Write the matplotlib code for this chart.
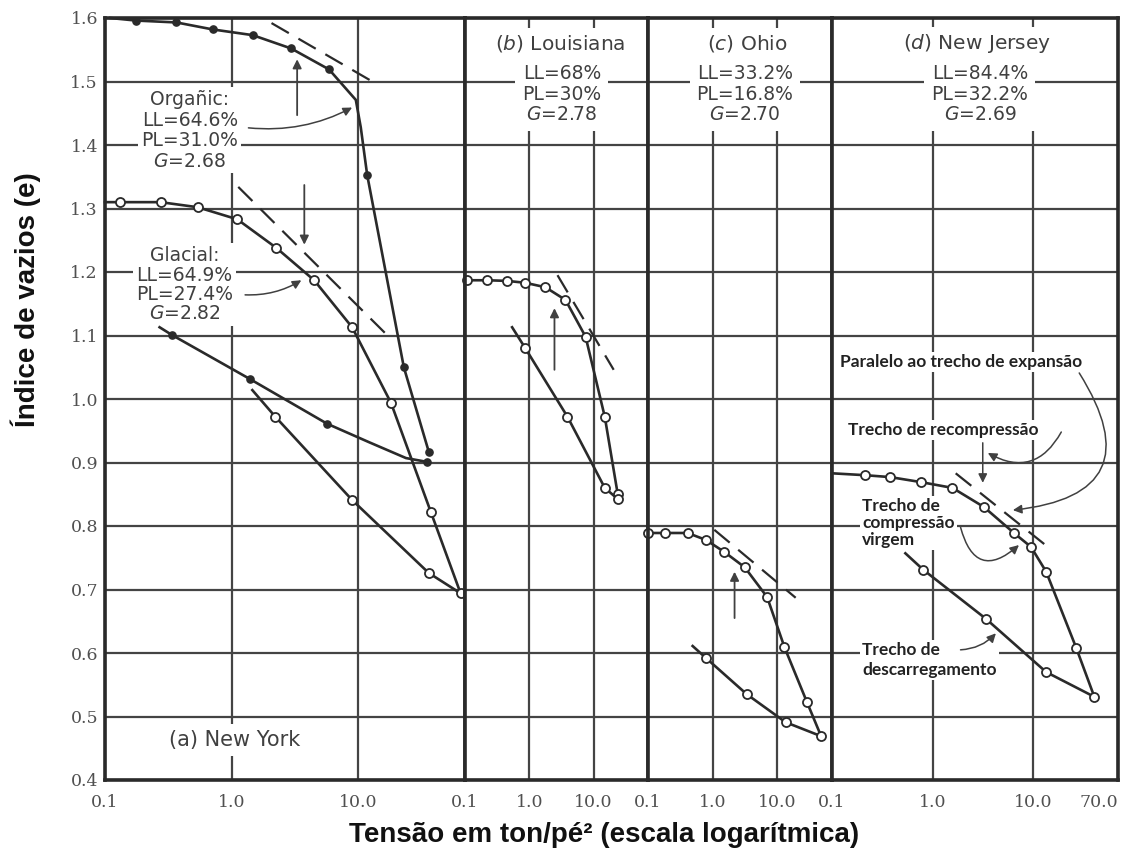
import matplotlib
matplotlib.use("Agg")
import matplotlib.pyplot as plt
from matplotlib.ticker import FixedLocator, NullLocator

# ---- data (stress in ton/ft^2, void ratio e) ----
# (a) New York - organic clay (filled circles)
org_load_x = [0.11, 0.175, 0.367, 0.71, 1.47, 2.96, 5.9, 9.6, 10.5, 11.8, 23, 36.2]
org_load_e = [1.600, 1.596, 1.593, 1.582, 1.573, 1.552, 1.519, 1.471, 1.428, 1.353, 1.05, 0.917]
org_load_pts_x = [0.175, 0.367, 0.71, 1.47, 2.96, 5.9, 11.8, 23, 36.2]
org_load_pts_e = [1.596, 1.593, 1.582, 1.573, 1.552, 1.519, 1.353, 1.05, 0.917]
org_unload_x = [35, 23.9, 12.2, 5.7, 1.41, 0.337, 0.27]
org_unload_e = [0.901, 0.907, 0.932, 0.961, 1.031, 1.101, 1.113]
org_unload_pts_x = [35, 5.7, 1.41, 0.337]
org_unload_pts_e = [0.901, 0.961, 1.031, 1.101]

# (a) New York - glacial clay (open circles)
gla_load_x = [0.1, 0.131, 0.275, 0.54, 1.11, 2.26, 4.5, 8.97, 18.2, 37.6, 64.6]
gla_load_e = [1.310, 1.310, 1.310, 1.302, 1.283, 1.238, 1.187, 1.113, 0.994, 0.822, 0.694]
gla_unload_x = [64.6, 36.2, 8.97, 2.22, 1.46]
gla_unload_e = [0.694, 0.726, 0.841, 0.972, 1.014]

# (b) Louisiana
lou_load_x = [0.107, 0.221, 0.453, 0.866, 1.78, 3.65, 7.5, 14.9, 23.7]
lou_load_e = [1.187, 1.187, 1.186, 1.183, 1.176, 1.156, 1.098, 0.972, 0.850]
lou_unload_x = [24, 14.9, 3.92, 0.866, 0.54]
lou_unload_e = [0.842, 0.860, 0.972, 1.080, 1.113]

# (c) Ohio
ohi_load_x = [0.1, 0.185, 0.41, 0.79, 1.52, 3.13, 6.96, 12.9, 28.6, 47.5]
ohi_load_e = [0.789, 0.789, 0.789, 0.778, 0.759, 0.735, 0.688, 0.609, 0.523, 0.469]
ohi_unload_x = [47.5, 13.4, 3.37, 0.79, 0.49]
ohi_unload_e = [0.469, 0.491, 0.535, 0.592, 0.611]

# (d) New Jersey
nj_load_x = [0.1, 0.214, 0.38, 0.776, 1.58, 3.24, 6.46, 9.55, 13.5, 26.9, 40.7]
nj_load_e = [0.883, 0.880, 0.877, 0.869, 0.860, 0.830, 0.789, 0.767, 0.728, 0.608, 0.531]
nj_unload_x = [40.7, 13.5, 3.39, 0.81, 0.537]
nj_unload_e = [0.531, 0.570, 0.654, 0.731, 0.757]

# dashed tangent lines (x pair, e pair)
tangents = {
    0: [([2.07, 14.6], [1.592, 1.494]), ([1.13, 16.9], [1.334, 1.101])],
    1: [([2.74, 20.5], [1.195, 1.046])],
    2: [([1.06, 19.2], [0.794, 0.687])],
    3: [([1.70, 15.1], [0.883, 0.763])],
}

panel_titles = ["(a) New York", "($\\it{b}$) Louisiana", "($\\it{c}$) Ohio", "($\\it{d}$) New Jersey"]
panel_props = [None,
               "LL=68%\nPL=30%\n$\\it{G}$=2.78",
               "LL=33.2%\nPL=16.8%\n$\\it{G}$=2.70",
               "LL=84.4%\nPL=32.2%\n$\\it{G}$=2.69"]
x_ticks = [[0.1, 1, 10], [0.1, 1, 10], [0.1, 1, 10], [0.1, 1, 10, 70]]
x_tick_labels = [["0.1", "1.0", "10.0"], ["0.1", "1.0", "10.0"],
                 ["0.1", "1.0", "10.0"], ["0.1", "1.0", "10.0", "70.0"]]
y_ticks = [0.4, 0.5, 0.6, 0.7, 0.8, 0.9, 1.0, 1.1, 1.2, 1.3, 1.4, 1.5, 1.6]

# ---- layout ----
W, H = 1141, 856
PANEL_X = [(105, 465), (465, 648), (648, 832), (832, 1118)]
TOP, BOTTOM = 18, 780
INK = "#2a2a2a"
GRID = "#444444"
TXT = "#404040"
TICK = "#505050"

fig = plt.figure(figsize=(W / 100, H / 100), dpi=100)

axes = []
for i, (x0, x1) in enumerate(PANEL_X):
    ax = fig.add_axes([x0 / W, 1 - BOTTOM / H, (x1 - x0) / W, (BOTTOM - TOP) / H])
    ax.set_xscale("log")
    ax.set_xlim(0.1, 70)
    ax.set_ylim(0.4, 1.6)
    ax.xaxis.set_major_locator(FixedLocator(x_ticks[i]))
    ax.xaxis.set_minor_locator(NullLocator())
    labs = ax.set_xticklabels(x_tick_labels[i], fontfamily="DejaVu Serif", fontsize=12.5, color=TICK)
    if i == 3:
        labs[-1].set_horizontalalignment("right")
    ax.yaxis.set_major_locator(FixedLocator(y_ticks))
    if i == 0:
        ax.set_yticklabels(["%.1f" % v for v in y_ticks], fontfamily="DejaVu Serif",
                           fontsize=12.5, color=TICK)
    else:
        ax.set_yticklabels([])
    ax.tick_params(axis="x", length=0, pad=10)
    ax.tick_params(axis="y", length=0, pad=5)
    ax.grid(True, color=GRID, lw=1.6)
    ax.set_axisbelow(True)
    for sp in ax.spines.values():
        sp.set_linewidth(2.6)
        sp.set_color(INK)
        sp.set_zorder(6)
    for tx, te in tangents[i]:
        ax.plot(tx, te, color=INK, lw=1.6, dashes=(9, 5), zorder=4)
    axes.append(ax)


def curve(ax, x, e):
    ax.plot(x, e, "-", color=INK, lw=1.9, zorder=4, clip_on=False)


def open_pts(ax, x, e):
    ax.plot(x, e, "o", ms=6.5, mfc="white", mec=INK, mew=1.3, zorder=5, clip_on=False)


def filled_pts(ax, x, e):
    ax.plot(x, e, "o", ms=5.2, mfc=INK, mec=INK, zorder=5, clip_on=False)


def arrow(ax, start, end, rad=0.0, lw=1.3):
    ax.annotate("", xy=end, xytext=start,
                arrowprops=dict(arrowstyle="-|>", color=TXT, lw=lw, mutation_scale=13,
                                shrinkA=0, shrinkB=0,
                                connectionstyle="arc3,rad=%s" % rad),
                zorder=5)


white = dict(fc="white", ec="none", pad=2)

# (a) New York
ax = axes[0]
curve(ax, org_load_x, org_load_e)
filled_pts(ax, org_load_pts_x, org_load_pts_e)
curve(ax, org_unload_x, org_unload_e)
filled_pts(ax, org_unload_pts_x, org_unload_pts_e)
curve(ax, gla_load_x, gla_load_e)
open_pts(ax, gla_load_x[1:], gla_load_e[1:])
curve(ax, gla_unload_x, gla_unload_e)
open_pts(ax, gla_unload_x[1:-1], gla_unload_e[1:-1])
arrow(ax, (3.3, 1.447), (3.3, 1.535))
arrow(ax, (3.76, 1.337), (3.76, 1.243))
ax.text(0.467, 1.423, "Orgañic:\nLL=64.6%\nPL=31.0%\n$\\it{G}$=2.68", ha="center", va="center",
        fontsize=13.5, color=TXT, linespacing=1.1, bbox=white, zorder=3)
ax.text(0.426, 1.18, "Glacial:\nLL=64.9%\nPL=27.4%\n$\\it{G}$=2.82", ha="center", va="center",
        fontsize=13.5, color=TXT, linespacing=1.02, bbox=white, zorder=3)
arrow(ax, (1.36, 1.427), (8.97, 1.459), rad=0.15, lw=1.1)
arrow(ax, (1.28, 1.164), (3.56, 1.187), rad=0.15, lw=1.1)
ax.text(0.361, 0.0525, panel_titles[0], transform=ax.transAxes, ha="center", va="center",
        fontsize=15, color=TXT, bbox=dict(fc="white", ec="none", pad=4), zorder=3)

# (b) Louisiana
ax = axes[1]
curve(ax, lou_load_x, lou_load_e)
open_pts(ax, lou_load_x, lou_load_e)
curve(ax, lou_unload_x, lou_unload_e)
open_pts(ax, lou_unload_x[:-1], lou_unload_e[:-1])
arrow(ax, (2.46, 1.046), (2.46, 1.143))

# (c) Ohio
ax = axes[2]
curve(ax, ohi_load_x, ohi_load_e)
open_pts(ax, ohi_load_x, ohi_load_e)
curve(ax, ohi_unload_x, ohi_unload_e)
open_pts(ax, ohi_unload_x[1:-1], ohi_unload_e[1:-1])
arrow(ax, (2.18, 0.655), (2.18, 0.728))

# (d) New Jersey
ax = axes[3]
curve(ax, nj_load_x, nj_load_e)
open_pts(ax, nj_load_x[1:], nj_load_e[1:])
curve(ax, nj_unload_x, nj_unload_e)
open_pts(ax, nj_unload_x[1:-1], nj_unload_e[1:-1])

note = dict(fontsize=12.5, fontweight="bold", fontfamily="Lato", color="#222222",
            ha="left", va="center", zorder=3,
            bbox=dict(fc="white", ec="none", pad=1.5))
ax.text(0.12, 1.058, "Paralelo ao trecho de expansão", **note)
ax.text(0.145, 0.951, "Trecho de recompressão", **note)
ax.text(0.2, 0.805, "Trecho de\ncompressão\nvirgem", linespacing=1.08, **note)
ax.text(0.2, 0.589, "Trecho de\ndescarregamento", linespacing=1.35, **note)
arrow(ax, (28.8, 1.041), (6.3, 0.825), rad=-0.8, lw=1.1)
arrow(ax, (19.1, 0.948), (3.55, 0.915), rad=-0.5, lw=1.1)
arrow(ax, (3.16, 0.931), (3.16, 0.868), lw=1.1)
arrow(ax, (1.9, 0.798), (7.24, 0.770), rad=0.8, lw=1.1)
arrow(ax, (1.9, 0.605), (4.27, 0.631), rad=0.2, lw=1.1)

# panel headings b-d
title_pos = [None, (0.52, 0.53), (0.54, 0.527), (0.507, 0.517)]
for i in range(1, 4):
    tx, px = title_pos[i]
    axes[i].text(tx, 0.967, panel_titles[i], transform=axes[i].transAxes, ha="center",
                 va="center", fontsize=14.5, color=TXT,
                 bbox=dict(fc="white", ec="none", pad=3), zorder=3)
    axes[i].text(px, 0.9, panel_props[i], transform=axes[i].transAxes, ha="center",
                 va="center", fontsize=13.5, color=TXT, linespacing=1.1,
                 bbox=dict(fc="white", ec="none", pad=5), zorder=3)

fig.text(0.023, 0.65, "Índice de vazios (e)", rotation=90, ha="center", va="center",
         fontsize=20, fontweight="bold", fontfamily="Liberation Sans", color="#111111")
fig.text(0.529, 0.024, "Tensão em ton/pé² (escala logarítmica)", ha="center", va="center",
         fontsize=20, fontweight="bold", fontfamily="Liberation Sans", color="#111111")

fig.savefig("out.png", dpi=100, facecolor="white")
